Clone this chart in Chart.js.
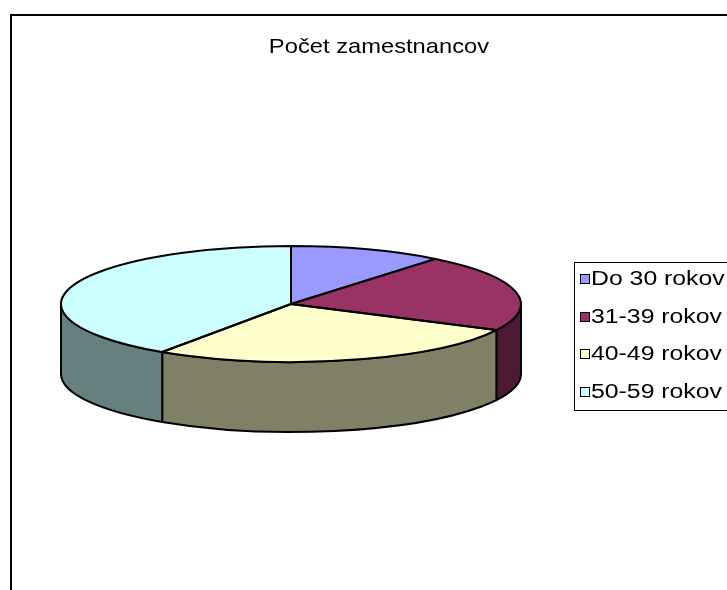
<!DOCTYPE html>
<html lang="sk">
<head>
<meta charset="utf-8">
<title>Počet zamestnancov</title>
<script src="https://cdn.jsdelivr.net/npm/chart.js@4.4.1/dist/chart.umd.min.js"></script>
<style>
  html, body { margin: 0; padding: 0; background: #fff; }
  #wrap { width: 727px; height: 590px; overflow: hidden; }
</style>
</head>
<body>
<div id="wrap"><canvas id="chart" width="727" height="590"></canvas></div>
<script>
// --- data ---
const TITLE = 'Počet zamestnancov';
const CATEGORIES = ['Do 30 rokov', '31-39 rokov', '40-49 rokov', '50-59 rokov'];
const EMPLOYEES = [8, 16, 20, 30];

// --- styles ---
const SLICE_COLORS = ['#9999ff', '#993366', '#ffffcc', '#ccffff'];
const FONT = '"Liberation Sans", Arial, sans-serif';
const PIE = { tilt: 0.252, depth: 70 };          // top face flattening, wall height (px)
const LEGEND = { x: 574.5, y: 262.5, w: 200, h: 148, first: 285, step: 37.7 };

// darker tone used for the pie walls (Excel halves the face colour)
function shade(hex, f) {
    const n = parseInt(hex.slice(1), 16);
    const c = [(n >> 16) & 255, (n >> 8) & 255, n & 255].map(v => Math.round(v * f));
    return `rgb(${c.join(',')})`;
}

function stretchedText(ctx, text, x, y, sx) {
    ctx.save();
    ctx.translate(x, y);
    ctx.scale(sx, 1);
    ctx.fillText(text, 0, 0);
    ctx.restore();
}

/** Excel-like frame, title and boxed legend */
const excelFrame = {
    id: 'excelFrame',
    beforeDraw(chart) {
        const ctx = chart.ctx;
        ctx.save();
        ctx.fillStyle = '#fff';
        ctx.fillRect(0, 0, chart.width, chart.height);
        ctx.strokeStyle = '#000';
        ctx.lineWidth = 2;
        ctx.strokeRect(11, 15, chart.width + 40, chart.height + 40);
        ctx.restore();
    },
    afterDraw(chart) {
        const ctx = chart.ctx;
        const colors = chart.data.datasets[0].backgroundColor;
        ctx.save();
        ctx.fillStyle = '#000';
        ctx.textBaseline = 'alphabetic';

        ctx.font = `21px ${FONT}`;
        ctx.textAlign = 'center';
        stretchedText(ctx, TITLE, 379, 53, 1.13);

        ctx.strokeStyle = '#000';
        ctx.lineWidth = 1;
        ctx.strokeRect(LEGEND.x, LEGEND.y, LEGEND.w, LEGEND.h);

        ctx.font = `20px ${FONT}`;
        ctx.textAlign = 'left';
        chart.data.labels.forEach((label, i) => {
            const base = Math.round(LEGEND.first + i * LEGEND.step);
            ctx.fillStyle = colors[i];
            ctx.fillRect(581, base - 10, 8, 8);
            ctx.strokeRect(580.5, base - 10.5, 9, 9);
            ctx.fillStyle = '#000';
            stretchedText(ctx, label, 591, base, 1.24);
        });
        ctx.restore();
    }
};

/** 3D pie: walls under the slices, library arcs squashed into the top face */
const pie3d = {
    id: 'pie3d',
    _squashed: false,
    beforeDatasetsDraw(chart) {
        const arcs = chart.getDatasetMeta(0).data;
        if (!arcs.length) return;
        const ctx = chart.ctx;
        const { x, y, outerRadius: r } = arcs[0];
        const ry = r * PIE.tilt;
        const colors = chart.data.datasets[0].backgroundColor;

        ctx.save();
        ctx.strokeStyle = '#000';
        ctx.lineWidth = 2;
        ctx.lineJoin = 'round';
        arcs.forEach((arc, i) => {
            const a = Math.max(arc.startAngle, 0);
            const b = Math.min(arc.endAngle, Math.PI);
            if (b <= a) return; // back half, hidden
            ctx.beginPath();
            ctx.ellipse(x, y, r, ry, 0, a, b);
            ctx.ellipse(x, y + PIE.depth, r, ry, 0, b, a, true);
            ctx.closePath();
            ctx.fillStyle = shade(colors[i], 0.5);
            ctx.fill();
            ctx.stroke();
        });
        ctx.restore();

        ctx.save();
        ctx.translate(x, y);
        ctx.scale(1, PIE.tilt);
        ctx.translate(-x, -y);
        this._squashed = true;
    },
    afterDatasetsDraw(chart) {
        if (!this._squashed) return;
        const ctx = chart.ctx;
        ctx.restore();
        this._squashed = false;

        const arcs = chart.getDatasetMeta(0).data;
        const { x, y, outerRadius: r } = arcs[0];
        const ry = r * PIE.tilt;
        ctx.save();
        ctx.strokeStyle = '#000';
        ctx.lineWidth = 2;
        ctx.lineJoin = 'round';
        arcs.forEach(arc => {
            ctx.beginPath();
            ctx.moveTo(x, y);
            ctx.ellipse(x, y, r, ry, 0, arc.startAngle, arc.endAngle);
            ctx.closePath();
            ctx.stroke();
        });
        ctx.restore();
    }
};

new Chart(document.getElementById('chart'), {
    type: 'pie',
    data: {
        labels: CATEGORIES,
        datasets: [{ data: EMPLOYEES, backgroundColor: SLICE_COLORS, borderWidth: 0 }]
    },
    options: {
        responsive: false,
        animation: false,
        events: [],
        layout: { padding: { left: 61, right: 206, top: 74, bottom: 56 } },
        plugins: {
            legend: { display: false },
            title: { display: false },
            tooltip: { enabled: false }
        }
    },
    plugins: [excelFrame, pie3d]
});
</script>
</body>
</html>
